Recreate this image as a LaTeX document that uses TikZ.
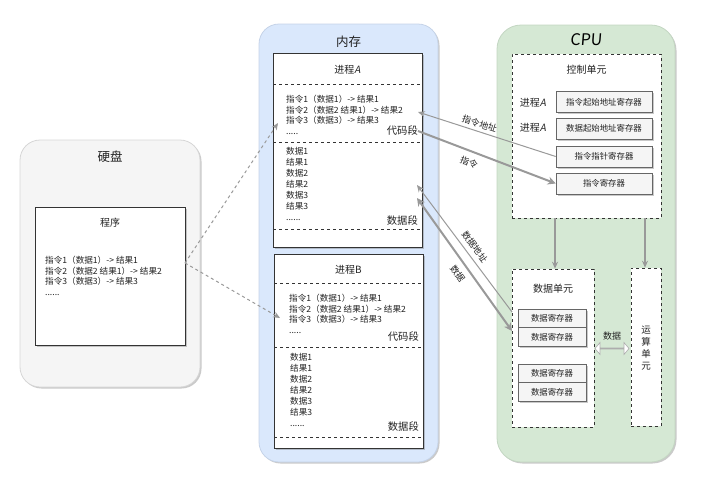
\documentclass[tikz,border=0pt]{standalone}
\usepackage{fontspec}
\setmainfont{Noto Sans CJK SC}
\newfontfamily\cjkit[FakeSlant=0.2]{Noto Sans CJK SC}
\newfontfamily\cpufont[FakeSlant=0.08]{Noto Sans CJK SC}
\usetikzlibrary{arrows.meta,shadows,shapes.arrows}
\definecolor{hdfill}{HTML}{F5F5F5}
\definecolor{hdline}{HTML}{D6D6D6}
\definecolor{memfill}{HTML}{DAE8FC}
\definecolor{memline}{HTML}{C5D3E8}
\definecolor{cpufill}{HTML}{D5E8D4}
\definecolor{cpuline}{HTML}{C3D6C2}
\definecolor{regfill}{HTML}{F5F5F5}
\definecolor{regline}{HTML}{666666}
\definecolor{arr}{HTML}{999999}
\definecolor{txt}{HTML}{222222}
\tikzset{
  shad/.style={drop shadow={shadow xshift=1.5pt,shadow yshift=-1.5pt,opacity=0.35,fill=black!60}},
  container/.style={rectangle,rounded corners=20pt,inner sep=0pt,line width=0.8pt,shad},
  progbox/.style={rectangle,draw=black!80,fill=white,inner sep=0pt,line width=0.6pt,shad},
  unitbox/.style={rectangle,draw=black!80,fill=white,dashed,inner sep=0pt,line width=0.6pt},
  regbox/.style={rectangle,draw=regline,fill=regfill,inner sep=0pt,line width=0.6pt,shad,
     font=\fontsize{8.4}{9}\selectfont,text=txt},
  codetext/.style={inner sep=0pt,align=left,font=\fontsize{8.6}{10.95}\selectfont,text=txt},
  segtext/.style={inner sep=0pt,font=\fontsize{10.3}{11}\selectfont,text=txt},
  titletext/.style={inner sep=0pt,font=\fontsize{12.5}{14}\selectfont,text=txt},
  subtitle/.style={inner sep=0pt,font=\fontsize{10}{11}\selectfont,text=txt},
  sep/.style={dashed,line width=0.5pt,black!80},
  dasharrow/.style={dashed,arr,line width=1pt,-{Stealth[length=7pt,width=6pt]}},
  thinarrow/.style={arr,line width=1pt,-{Stealth[length=7pt,width=6pt]}},
  thickarrow/.style={arr,line width=2pt,-{Stealth[length=8pt,width=8pt]}},
  arrlabel/.style={inner sep=1pt,font=\fontsize{9}{10}\selectfont,text=txt},
}
\begin{document}
\begin{tikzpicture}[x=1pt,y=-1pt]
\useasboundingbox (0,0) rectangle (706,488);

% containers
\node[container,draw=hdline,fill=hdfill,minimum width=180pt,minimum height=247pt] (hd) at (110,263.5) {};
\node[titletext] (hdt) at (110,157) {硬盘};
\node[container,draw=memline,fill=memfill,minimum width=179pt,minimum height=438pt] (mem) at (348.5,243) {};
\node[titletext] (memt) at (348.5,42) {内存};
\node[container,rounded corners=24pt,draw=cpuline,fill=cpufill,minimum width=178pt,minimum height=437pt] (cpu) at (586,243.5) {};
\node[inner sep=0pt,font=\fontsize{16}{18}\selectfont,text=black] (cput) at (586,40) {\cpufont CPU};

% program on disk
\node[progbox,minimum width=150pt,minimum height=138pt] (prog) at (110,276) {};
\node[subtitle] (progt) at (110,223) {程序};
\node[codetext,anchor=north west] (progc) at (45,255.5) {指令1（数据1）-> 结果1\\指令2（数据2 结果1）-> 结果2\\指令3（数据3）-> 结果3\\......};

% process A
\node[progbox,minimum width=149pt,minimum height=194pt] (pa) at (347.5,150) {};
\node[subtitle] (pat) at (347.5,70) {进程{\cjkit A}};
\draw[sep] (273,84) -- (422,84);
\draw[sep] (273,142) -- (422,142);
\draw[sep] (273,229) -- (422,229);
\node[codetext,anchor=north west] (pacode) at (286,94.5) {指令1（数据1）-> 结果1\\指令2（数据2 结果1）-> 结果2\\指令3（数据3）-> 结果3\\.....};
\node[segtext,anchor=east] (pacs) at (418,131) {代码段};
\node[codetext,anchor=north west] (padata) at (286,147.5) {数据1\\结果1\\数据2\\结果2\\数据3\\结果3\\......};
\node[segtext,anchor=east] (pads) at (418,221) {数据段};

% process B
\node[progbox,minimum width=149pt,minimum height=194pt] (pb) at (348.5,351) {};
\node[subtitle] (pbt) at (348.5,270) {进程B};
\draw[sep] (274,283) -- (423,283);
\draw[sep] (274,347) -- (423,347);
\draw[sep] (274,437) -- (423,437);
\node[codetext,anchor=north west] (pbcode) at (289,293.5) {指令1（数据1）-> 结果1\\指令2（数据2 结果1）-> 结果2\\指令3（数据3）-> 结果3\\.....};
\node[segtext,anchor=east] (pbcs) at (419,337) {代码段};
\node[codetext,anchor=north west] (pbdata) at (290,353.5) {数据1\\结果1\\数据2\\结果2\\数据3\\结果3\\......};
\node[segtext,anchor=east] (pbds) at (419,427) {数据段};

% control unit
\node[unitbox,minimum width=149pt,minimum height=164pt] (cu) at (586.5,136) {};
\node[subtitle] (cut) at (586.5,70) {控制单元};
\node[subtitle] (cpa1) at (533,103) {进程{\cjkit A}};
\node[subtitle] (cpa2) at (533,128) {进程{\cjkit A}};
\node[regbox,minimum width=96pt,minimum height=21pt] (r1) at (604,102) {指令起始地址寄存器};
\node[regbox,minimum width=96pt,minimum height=21pt] (r2) at (604,128.5) {数据起始地址寄存器};
\node[regbox,minimum width=96pt,minimum height=21pt] (r3) at (604,156.5) {指令指针寄存器};
\node[regbox,minimum width=96pt,minimum height=21pt] (r4) at (604,183.5) {指令寄存器};

% data unit
\node[unitbox,minimum width=82pt,minimum height=158pt] (du) at (553,348) {};
\node[subtitle] (dut) at (553,289) {数据单元};
\node[regbox,minimum width=68pt,minimum height=18.5pt] (d1) at (552,318.5) {数据寄存器};
\node[regbox,minimum width=68pt,minimum height=18.5pt] (d2) at (552,337) {数据寄存器};
\node[regbox,minimum width=68pt,minimum height=18.5pt] (d3) at (552,373.5) {数据寄存器};
\node[regbox,minimum width=68pt,minimum height=18.5pt] (d4) at (552,392) {数据寄存器};

% ALU
\node[unitbox,minimum width=30pt,minimum height=158pt] (alu) at (646,347) {};
\node[inner sep=0pt,align=center,font=\fontsize{9.5}{12}\selectfont,text=txt] (alut) at (646,348) {运\\算\\单\\元};

% hollow double arrow
\node[double arrow,draw=arr!80,fill=white,line width=0.6pt,inner sep=0pt,minimum width=12pt,
      minimum height=34pt,double arrow head extend=3.5pt,double arrow tip angle=100] (dd) at (612,348.5) {};
\node[arrlabel] (ddl) at (612,336) {数据};

% control -> units
\coordinate (cub1) at (555,218);
\coordinate (cub2) at (645,218);
\draw[arr,line width=1.2pt,-{Stealth[length=7pt,width=6pt]}] (cub1) -- (cub1 |- du.north);
\draw[arr,line width=1.2pt,-{Stealth[length=7pt,width=6pt]}] (cub2) -- (cub2 |- alu.north);

% disk -> memory
\coordinate (ps) at (185,263);
\coordinate (pae) at (278,123);
\coordinate (pbe) at (280,318);
\draw[dasharrow] (ps) -- (pae);
\draw[dasharrow] (ps) -- (pbe);

% memory <-> cpu
\coordinate (ia) at (418,112);
\coordinate (is) at (418,131);
\coordinate (da) at (417,185);
\coordinate (dd1) at (417,198);
\coordinate (dua) at (512,312);
\coordinate (dub) at (512,331);
\draw[thinarrow] (r3.west) -- node[arrlabel,above=2pt,sloped,pos=0.57] {指令地址} (ia);
\draw[thickarrow] (is) -- node[arrlabel,below=5pt,sloped,pos=0.40] {指令} (r4.west);
\draw[thinarrow] (dua) -- node[arrlabel,above=3.5pt,sloped,pos=0.47] {数据地址} (da);
\draw[arr,line width=2pt,{Stealth[length=8pt,width=8pt]}-{Stealth[length=8pt,width=8pt]}] (dd1) -- node[arrlabel,below=4.5pt,sloped,pos=0.52] {数据} (dub);
\end{tikzpicture}
\end{document}
